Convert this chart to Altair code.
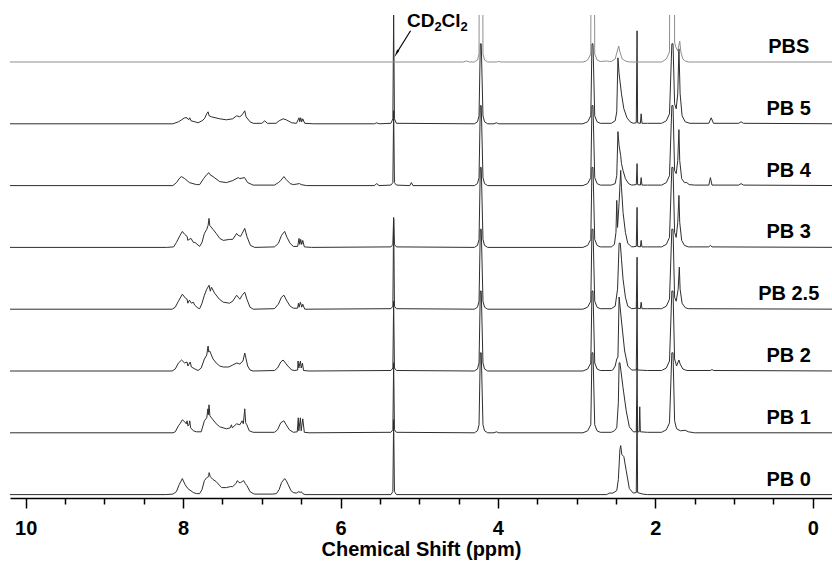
import altair as alt
import pandas as pd

# ---------------- data ----------------
SERIES = ["PB 0", "PB 1", "PB 2", "PB 2.5", "PB 3", "PB 4", "PB 5", "PBS"]

# (chemical shift ppm, intensity) key points of each spectrum, high ppm -> low ppm
PB_0 = [
    (10.4, 0), (8.22, 0), (8.13, 0.5), (8.085, 3), (8.05, 10), (8.01, 16), (7.975, 10), (7.94, 6),
    (7.87, 2), (7.83, 1), (7.79, 1), (7.76, 5), (7.73, 14), (7.70, 17), (7.675, 18), (7.67, 22),
    (7.655, 18), (7.62, 15), (7.58, 13), (7.535, 9), (7.51, 7), (7.45, 7), (7.40, 8), (7.37, 8),
    (7.33, 11), (7.31, 14), (7.29, 12), (7.27, 12), (7.25, 13), (7.23, 14), (7.21, 11), (7.19, 9),
    (7.15, 3), (7.11, 1), (7.09, 0.5), (6.86, 0.5), (6.815, 1), (6.78, 5), (6.75, 12), (6.71, 16),
    (6.69, 14), (6.665, 10), (6.63, 4), (6.60, 2), (6.56, 1.5), (6.53, 3), (6.51, 2), (6.50, 3),
    (6.48, 1), (6.45, 0),
    (5.36, 0), (5.335, 3), (5.325, 75), (5.315, 3), (5.29, 0),
    (2.62, 0), (2.58, 1.5), (2.54, 1.5), (2.49, 4), (2.47, 15), (2.45, 45), (2.44, 49), (2.425, 40),
    (2.40, 38), (2.37, 24), (2.33, 6), (2.28, 1.5), (2.242, 2), (2.232, 88), (2.225, 2),
    (2.16, 0.5), (2.10, 0), (-0.4, 0),
]
PB_1 = [
    (10.4, 0), (8.13, 0), (8.10, 1), (8.06, 7), (8.04, 9), (8.01, 13), (7.98, 11), (7.96, 9),
    (7.95, 12), (7.94, 7), (7.925, 8), (7.916, 12), (7.905, 5), (7.87, 2), (7.83, 1), (7.77, 1),
    (7.73, 12), (7.70, 15), (7.685, 24), (7.68, 18), (7.671, 28), (7.66, 17), (7.62, 13), (7.58, 9),
    (7.535, 6), (7.45, 4), (7.40, 5), (7.387, 8), (7.375, 5), (7.32, 9), (7.28, 8), (7.25, 12),
    (7.235, 9), (7.217, 24), (7.205, 10), (7.19, 8), (7.16, 2), (7.11, 0.5), (6.84, 0.5), (6.80, 3),
    (6.76, 10), (6.72, 12), (6.69, 8), (6.65, 3), (6.60, 0.5), (6.55, 1), (6.537, 15), (6.53, 2),
    (6.51, 15), (6.50, 2), (6.48, 14), (6.46, 0.5), (6.40, 0),
    (5.36, 0.5), (5.335, 3), (5.325, 70), (5.315, 3), (5.29, 0.5),
    (4.30, 0), (4.26, 2), (4.24, 8), (4.224, 80), (4.212, 80), (4.19, 8), (4.17, 2), (4.13, 0),
    (4.05, 0), (4.02, 1), (3.99, 0),
    (2.92, 0), (2.86, 2), (2.82, 8), (2.805, 80), (2.792, 80), (2.77, 8), (2.74, 2), (2.70, 0.5),
    (2.56, 0.5), (2.52, 2), (2.49, 5), (2.47, 30), (2.46, 70), (2.45, 70), (2.41, 45), (2.37, 22),
    (2.33, 6), (2.28, 1), (2.242, 1), (2.232, 65), (2.225, 1), (2.205, 1), (2.198, 26), (2.19, 1),
    (2.10, 0.5),
    (1.92, 0.5), (1.86, 3), (1.82, 10), (1.79, 80), (1.775, 80), (1.755, 12), (1.73, 4), (1.68, 2),
    (1.62, 2.5), (1.58, 1), (1.50, 0), (-0.4, 0),
]
PB_2 = [
    (10.4, 0), (8.14, 0), (8.10, 2), (8.06, 8), (8.02, 11), (7.98, 8), (7.95, 9), (7.94, 5),
    (7.91, 9), (7.895, 4), (7.85, 2), (7.81, 0.5), (7.77, 3), (7.73, 12), (7.70, 16), (7.683, 25),
    (7.675, 19), (7.662, 20), (7.62, 12), (7.58, 8), (7.535, 5), (7.49, 4), (7.42, 4), (7.37, 6),
    (7.32, 8), (7.28, 7), (7.24, 10), (7.217, 18), (7.20, 12), (7.18, 5), (7.15, 1), (7.11, 0),
    (6.84, 0.5), (6.80, 3), (6.76, 9), (6.73, 11), (6.70, 8), (6.67, 5), (6.62, 1), (6.58, 0.5),
    (6.545, 1), (6.54, 10), (6.53, 3), (6.51, 10), (6.50, 3), (6.484, 8), (6.47, 0.5), (6.40, 0),
    (5.36, 0.5), (5.335, 3), (5.325, 70), (5.315, 3), (5.29, 0.5),
    (4.30, 0), (4.26, 2), (4.24, 8), (4.224, 80), (4.212, 80), (4.19, 8), (4.17, 2), (4.13, 0),
    (2.92, 0), (2.86, 2), (2.82, 8), (2.805, 80), (2.792, 80), (2.77, 8), (2.74, 2), (2.70, 0.5),
    (2.56, 0.5), (2.54, 1), (2.51, 5), (2.49, 12), (2.475, 14), (2.46, 74), (2.43, 50), (2.39, 20),
    (2.35, 5), (2.30, 1), (2.242, 1), (2.232, 70), (2.225, 1), (2.10, 0.5),
    (1.92, 0.5), (1.86, 3), (1.82, 10), (1.79, 80), (1.775, 80), (1.755, 12), (1.73, 5), (1.70, 11),
    (1.685, 7), (1.65, 2), (1.60, 0.5), (1.30, 0.5), (1.28, 1.5), (1.26, 0.5), (-0.4, 0),
]
PB_25 = [
    (10.4, 0), (8.14, 0), (8.10, 2), (8.06, 8), (8.01, 15), (7.97, 11), (7.95, 10), (7.94, 6),
    (7.92, 9), (7.895, 6), (7.87, 7), (7.853, 4), (7.81, 1), (7.79, 0.5), (7.76, 6), (7.73, 14),
    (7.70, 20), (7.67, 24), (7.655, 18), (7.64, 22), (7.60, 16), (7.54, 10), (7.49, 7), (7.41, 6),
    (7.37, 8), (7.32, 14), (7.30, 12), (7.28, 10), (7.25, 14), (7.217, 17), (7.19, 10), (7.15, 2),
    (7.11, 0), (6.84, 0.5), (6.79, 5), (6.75, 12), (6.72, 14), (6.68, 8), (6.64, 3), (6.60, 1),
    (6.545, 1), (6.535, 6), (6.527, 2), (6.51, 7), (6.493, 2), (6.48, 5), (6.455, 0),
    (5.36, 0.5), (5.335, 3), (5.325, 90), (5.315, 3), (5.29, 0.5),
    (4.30, 0), (4.26, 2), (4.24, 8), (4.224, 80), (4.212, 80), (4.19, 8), (4.17, 2), (4.13, 0),
    (2.92, 0), (2.86, 2), (2.82, 8), (2.805, 80), (2.792, 80), (2.77, 8), (2.74, 2), (2.70, 0.5),
    (2.56, 0.5), (2.51, 3), (2.48, 20), (2.46, 66), (2.445, 66), (2.43, 50), (2.41, 30), (2.38, 12),
    (2.35, 3), (2.30, 0.5), (2.242, 1), (2.232, 52), (2.225, 1), (2.19, 0.5), (2.18, 7), (2.17, 0.5),
    (2.10, 0.5),
    (1.92, 0.5), (1.86, 3), (1.82, 10), (1.79, 80), (1.775, 80), (1.755, 12), (1.735, 8), (1.71, 20),
    (1.695, 42), (1.685, 20), (1.66, 6), (1.62, 1.5), (1.58, 0.5), (-0.4, 0),
]
PB_3 = [
    (10.4, 0), (8.21, 0), (8.12, 0.5), (8.085, 5), (8.04, 12), (8.01, 16), (7.98, 13), (7.95, 11),
    (7.94, 7), (7.925, 8), (7.90, 9), (7.87, 5), (7.85, 5), (7.79, 1), (7.76, 5), (7.73, 14),
    (7.70, 18), (7.683, 22), (7.671, 29), (7.662, 22), (7.62, 18), (7.58, 14), (7.535, 9), (7.49, 7),
    (7.41, 8), (7.37, 8), (7.32, 14), (7.30, 12), (7.27, 11), (7.25, 14), (7.217, 19), (7.19, 11),
    (7.145, 2), (7.09, 0), (6.84, 0.5), (6.79, 4), (6.75, 12), (6.71, 16), (6.68, 10), (6.64, 4),
    (6.60, 1), (6.545, 1), (6.527, 9), (6.518, 3), (6.506, 8), (6.493, 3), (6.48, 7), (6.46, 0.5),
    (6.37, 0),
    (5.36, 0.5), (5.335, 3), (5.325, 30), (5.315, 3), (5.29, 0.5),
    (4.30, 0), (4.26, 2), (4.24, 8), (4.224, 80), (4.212, 80), (4.19, 8), (4.17, 2), (4.13, 0),
    (2.92, 0), (2.86, 2), (2.82, 8), (2.805, 80), (2.792, 80), (2.77, 8), (2.74, 2), (2.70, 0.5),
    (2.56, 0.5), (2.52, 3), (2.50, 15), (2.49, 47), (2.48, 20), (2.46, 45), (2.44, 77), (2.43, 60),
    (2.41, 35), (2.38, 15), (2.35, 4), (2.30, 0.5), (2.242, 1), (2.232, 40), (2.225, 1), (2.19, 0.5),
    (2.18, 7), (2.17, 0.5), (2.10, 0.5),
    (1.92, 0.5), (1.86, 3), (1.82, 10), (1.79, 80), (1.775, 80), (1.755, 15), (1.735, 10), (1.715, 25),
    (1.70, 52), (1.69, 25), (1.665, 7), (1.63, 2), (1.58, 0.5), (1.32, 0.5), (1.30, 2), (1.28, 0.5),
    (-0.4, 0),
]
PB_4 = [
    (10.4, 0), (8.13, 0), (8.085, 3), (8.04, 8), (8.02, 9), (7.98, 7), (7.92, 3), (7.83, 1),
    (7.79, 1), (7.74, 7), (7.70, 11), (7.683, 12), (7.675, 13), (7.66, 11), (7.62, 9), (7.535, 4),
    (7.45, 3), (7.37, 5), (7.30, 8), (7.28, 7), (7.22, 8), (7.18, 3), (7.11, 0.5), (6.84, 0.5),
    (6.79, 3), (6.76, 5), (6.72, 9), (6.69, 6), (6.64, 2), (6.60, 1), (6.52, 2), (6.50, 1),
    (6.43, 0),
    (5.57, 0), (5.54, 2), (5.51, 0),
    (5.36, 0.5), (5.335, 3), (5.325, 75), (5.315, 3), (5.29, 0.5),
    (5.12, 0), (5.10, 3), (5.08, 0),
    (4.30, 0), (4.26, 2), (4.24, 8), (4.224, 80), (4.212, 80), (4.19, 8), (4.17, 2), (4.13, 0),
    (2.92, 0), (2.86, 2), (2.82, 8), (2.805, 80), (2.792, 80), (2.77, 8), (2.74, 2), (2.70, 0.5),
    (2.56, 0.5), (2.51, 2), (2.49, 10), (2.475, 54), (2.46, 40), (2.44, 30), (2.43, 22), (2.41, 15),
    (2.38, 7), (2.34, 2), (2.30, 0.5), (2.242, 1), (2.232, 22), (2.225, 1), (2.19, 0.5), (2.18, 8),
    (2.17, 0.5), (2.10, 0.5),
    (1.92, 0.5), (1.86, 3), (1.82, 10), (1.79, 80), (1.775, 80), (1.755, 15), (1.735, 12), (1.715, 25),
    (1.70, 56), (1.69, 25), (1.665, 7), (1.63, 3), (1.60, 3), (1.57, 1), (1.50, 0.5), (1.32, 0.5),
    (1.30, 8), (1.28, 0.5), (0.94, 0.5), (0.91, 2), (0.88, 0.5), (-0.4, 0),
]
PB_5 = [
    (10.4, 0), (8.13, 0), (8.06, 2), (8.02, 4), (7.98, 6), (7.95, 6), (7.93, 4), (7.916, 6),
    (7.90, 3), (7.85, 2), (7.81, 1), (7.76, 3), (7.73, 5), (7.70, 10), (7.683, 12), (7.67, 8),
    (7.64, 7), (7.535, 5), (7.45, 4), (7.37, 5), (7.32, 8), (7.28, 7), (7.25, 9), (7.217, 13),
    (7.20, 7), (7.15, 2), (7.11, 0.5), (7.00, 0.5), (6.963, 3), (6.93, 0.5), (6.82, 0.5), (6.78, 3),
    (6.73, 5), (6.69, 4), (6.62, 1), (6.56, 0.5), (6.527, 6), (6.518, 2), (6.506, 6), (6.493, 2),
    (6.48, 5), (6.455, 0.5), (6.34, 0),
    (5.57, 0), (5.54, 1), (5.51, 0),
    (5.36, 0.5), (5.335, 5), (5.325, 110), (5.315, 5), (5.29, 0.5),
    (4.30, 0), (4.26, 2), (4.24, 8), (4.224, 80), (4.212, 80), (4.19, 8), (4.17, 2), (4.13, 0),
    (4.05, 0), (4.02, 1), (3.99, 0),
    (2.92, 0), (2.86, 2), (2.82, 8), (2.805, 80), (2.792, 80), (2.77, 8), (2.74, 2), (2.70, 0.5),
    (2.56, 0.5), (2.51, 3), (2.49, 12), (2.475, 66), (2.46, 50), (2.43, 30), (2.40, 15), (2.36, 6),
    (2.32, 2), (2.28, 0.5), (2.242, 1), (2.232, 93), (2.225, 1), (2.19, 0.5), (2.18, 10), (2.17, 0.5),
    (2.10, 0.5),
    (1.92, 0.5), (1.86, 3), (1.82, 10), (1.79, 80), (1.775, 80), (1.755, 20), (1.735, 15), (1.715, 30),
    (1.70, 75), (1.685, 30), (1.66, 8), (1.62, 2), (1.56, 0.5), (1.32, 0.5), (1.29, 6), (1.26, 0.5),
    (0.94, 0.5), (0.91, 2), (0.88, 0.5), (-0.4, 0),
]
PBS = [
    (10.4, 0), (4.44, 0), (4.40, 1), (4.36, 0),
    (4.30, 0), (4.26, 2), (4.24, 8), (4.224, 600), (4.21, 600), (4.19, 8), (4.17, 2), (4.13, 0),
    (4.02, 0), (3.99, 0.5), (3.96, 0),
    (2.92, 0), (2.88, 1), (2.86, 2), (2.82, 8), (2.805, 600), (2.79, 600), (2.77, 8), (2.74, 2),
    (2.70, 0.5), (2.62, 1), (2.58, 0.5),
    (2.56, 0.5), (2.51, 3), (2.48, 12), (2.465, 16), (2.45, 10), (2.42, 3), (2.38, 1), (2.33, 0),
    (1.92, 0), (1.86, 3), (1.82, 10), (1.795, 600), (1.77, 600), (1.755, 20), (1.74, 15), (1.715, 11),
    (1.69, 21), (1.675, 10), (1.65, 3), (1.62, 1), (1.58, 0), (-0.4, 0),
]
SPECTRA = [PB_0, PB_1, PB_2, PB_25, PB_3, PB_4, PB_5, PBS]

X_TICKS = [i * 0.5 for i in range(21)]
# solvent label pieces: CD, 2 (subscript), Cl, 2 (subscript)
SOLVENT_MAIN = ["CD", "Cl"]
SOLVENT_SUB = ["2", "2"]

# ---------------- layout constants ----------------
BASE = 3.4      # baseline of lowest trace above axis (px units)
STEP = 61.8     # vertical stacking step between traces (px units)
W, H = 822, 483
FONT = "Liberation Sans"

rows = []
for i, (name, pts) in enumerate(zip(SERIES, SPECTRA)):
    off = BASE + i * STEP
    for k, (p, v) in enumerate(pts):
        rows.append({"series": name, "ppm": p, "y": v + off, "k": k})
spec = pd.DataFrame(rows)

labels = pd.DataFrame({
    "series": SERIES,
    "ppm": [0.305] * len(SERIES),
    "y": [BASE + i * STEP + 15 for i in range(len(SERIES))],
})

xscale = alt.Scale(domain=[-0.245, 10.2], reverse=True, nice=False, zero=False)
yscale = alt.Scale(domain=[0, H], nice=False, zero=False)

xaxis = alt.Axis(
    values=X_TICKS,
    labelExpr="datum.value % 2 === 0 ? format(datum.value, 'd') : ''",
    tickSize={"condition": {"test": "datum.value % 2 === 0", "value": 10}, "value": 6},
    tickColor="#000", tickWidth=1.5, domainColor="#000", domainWidth=1.5,
    grid=False, labelFont=FONT, labelFontSize=20, labelFontWeight="bold", labelColor="#000",
    labelPadding=10, title="Chemical Shift (ppm)", titleFont=FONT, titleFontSize=20,
    titleFontWeight="bold", titleColor="#000", titlePadding=1,
)

lines = alt.Chart(spec).mark_line(clip=True, strokeJoin="miter").encode(
    x=alt.X("ppm:Q", scale=xscale, axis=xaxis),
    y=alt.Y("y:Q", scale=yscale, axis=None),
    detail="series:N",
    order="k:Q",
    color=alt.Color("series:N", scale=alt.Scale(domain=SERIES, range=["#2e2e2e"] * 7 + ["#8f8f8f"]), legend=None),
    strokeWidth=alt.StrokeWidth("series:N", scale=alt.Scale(domain=SERIES, range=[1.0] * 7 + [1.6]), legend=None),
)

text = alt.Chart(labels).mark_text(
    font=FONT, fontSize=20, fontWeight="bold", align="center", baseline="middle", color="#000"
).encode(x=alt.X("ppm:Q", scale=xscale), y=alt.Y("y:Q", scale=yscale), text="series:N")

ann = pd.DataFrame({"ppm": [5.11], "y": [467.3], "ppm2": [5.283], "y2": [445.5]})
arrow_line = alt.Chart(ann).mark_rule(color="#000", strokeWidth=1.2).encode(
    x=alt.X("ppm:Q", scale=xscale), y=alt.Y("y:Q", scale=yscale), x2="ppm2:Q", y2="y2:Q"
)
arrow_head = alt.Chart(ann).mark_point(shape="wedge", filled=True, color="#000", size=90, angle=208, opacity=1).encode(
    x=alt.X("ppm2:Q", scale=xscale), y=alt.Y("y2:Q", scale=yscale)
)
solv_main = pd.DataFrame({"ppm": [5.155, 4.716], "y": [477, 477], "t": SOLVENT_MAIN})
solv_sub = pd.DataFrame({"ppm": [4.807, 4.474], "y": [471, 471], "t": SOLVENT_SUB})
solv_text = alt.Chart(solv_main).mark_text(
    font=FONT, fontSize=19, fontWeight="bold", align="left", baseline="middle", color="#000"
).encode(x=alt.X("ppm:Q", scale=xscale), y=alt.Y("y:Q", scale=yscale), text="t:N")
solv_subt = alt.Chart(solv_sub).mark_text(
    font=FONT, fontSize=13, fontWeight="bold", align="left", baseline="middle", color="#000"
).encode(x=alt.X("ppm:Q", scale=xscale), y=alt.Y("y:Q", scale=yscale), text="t:N")

chart = alt.layer(lines, text, arrow_line, arrow_head, solv_text, solv_subt).properties(
    width=W, height=H, autosize=alt.AutoSizeParams(type="none"),
    padding={"left": 10, "top": 15, "right": 0, "bottom": 69},
    background="white",
).configure_view(stroke=None)

chart.save("out.html", embed_options={"renderer": "svg", "actions": False})
